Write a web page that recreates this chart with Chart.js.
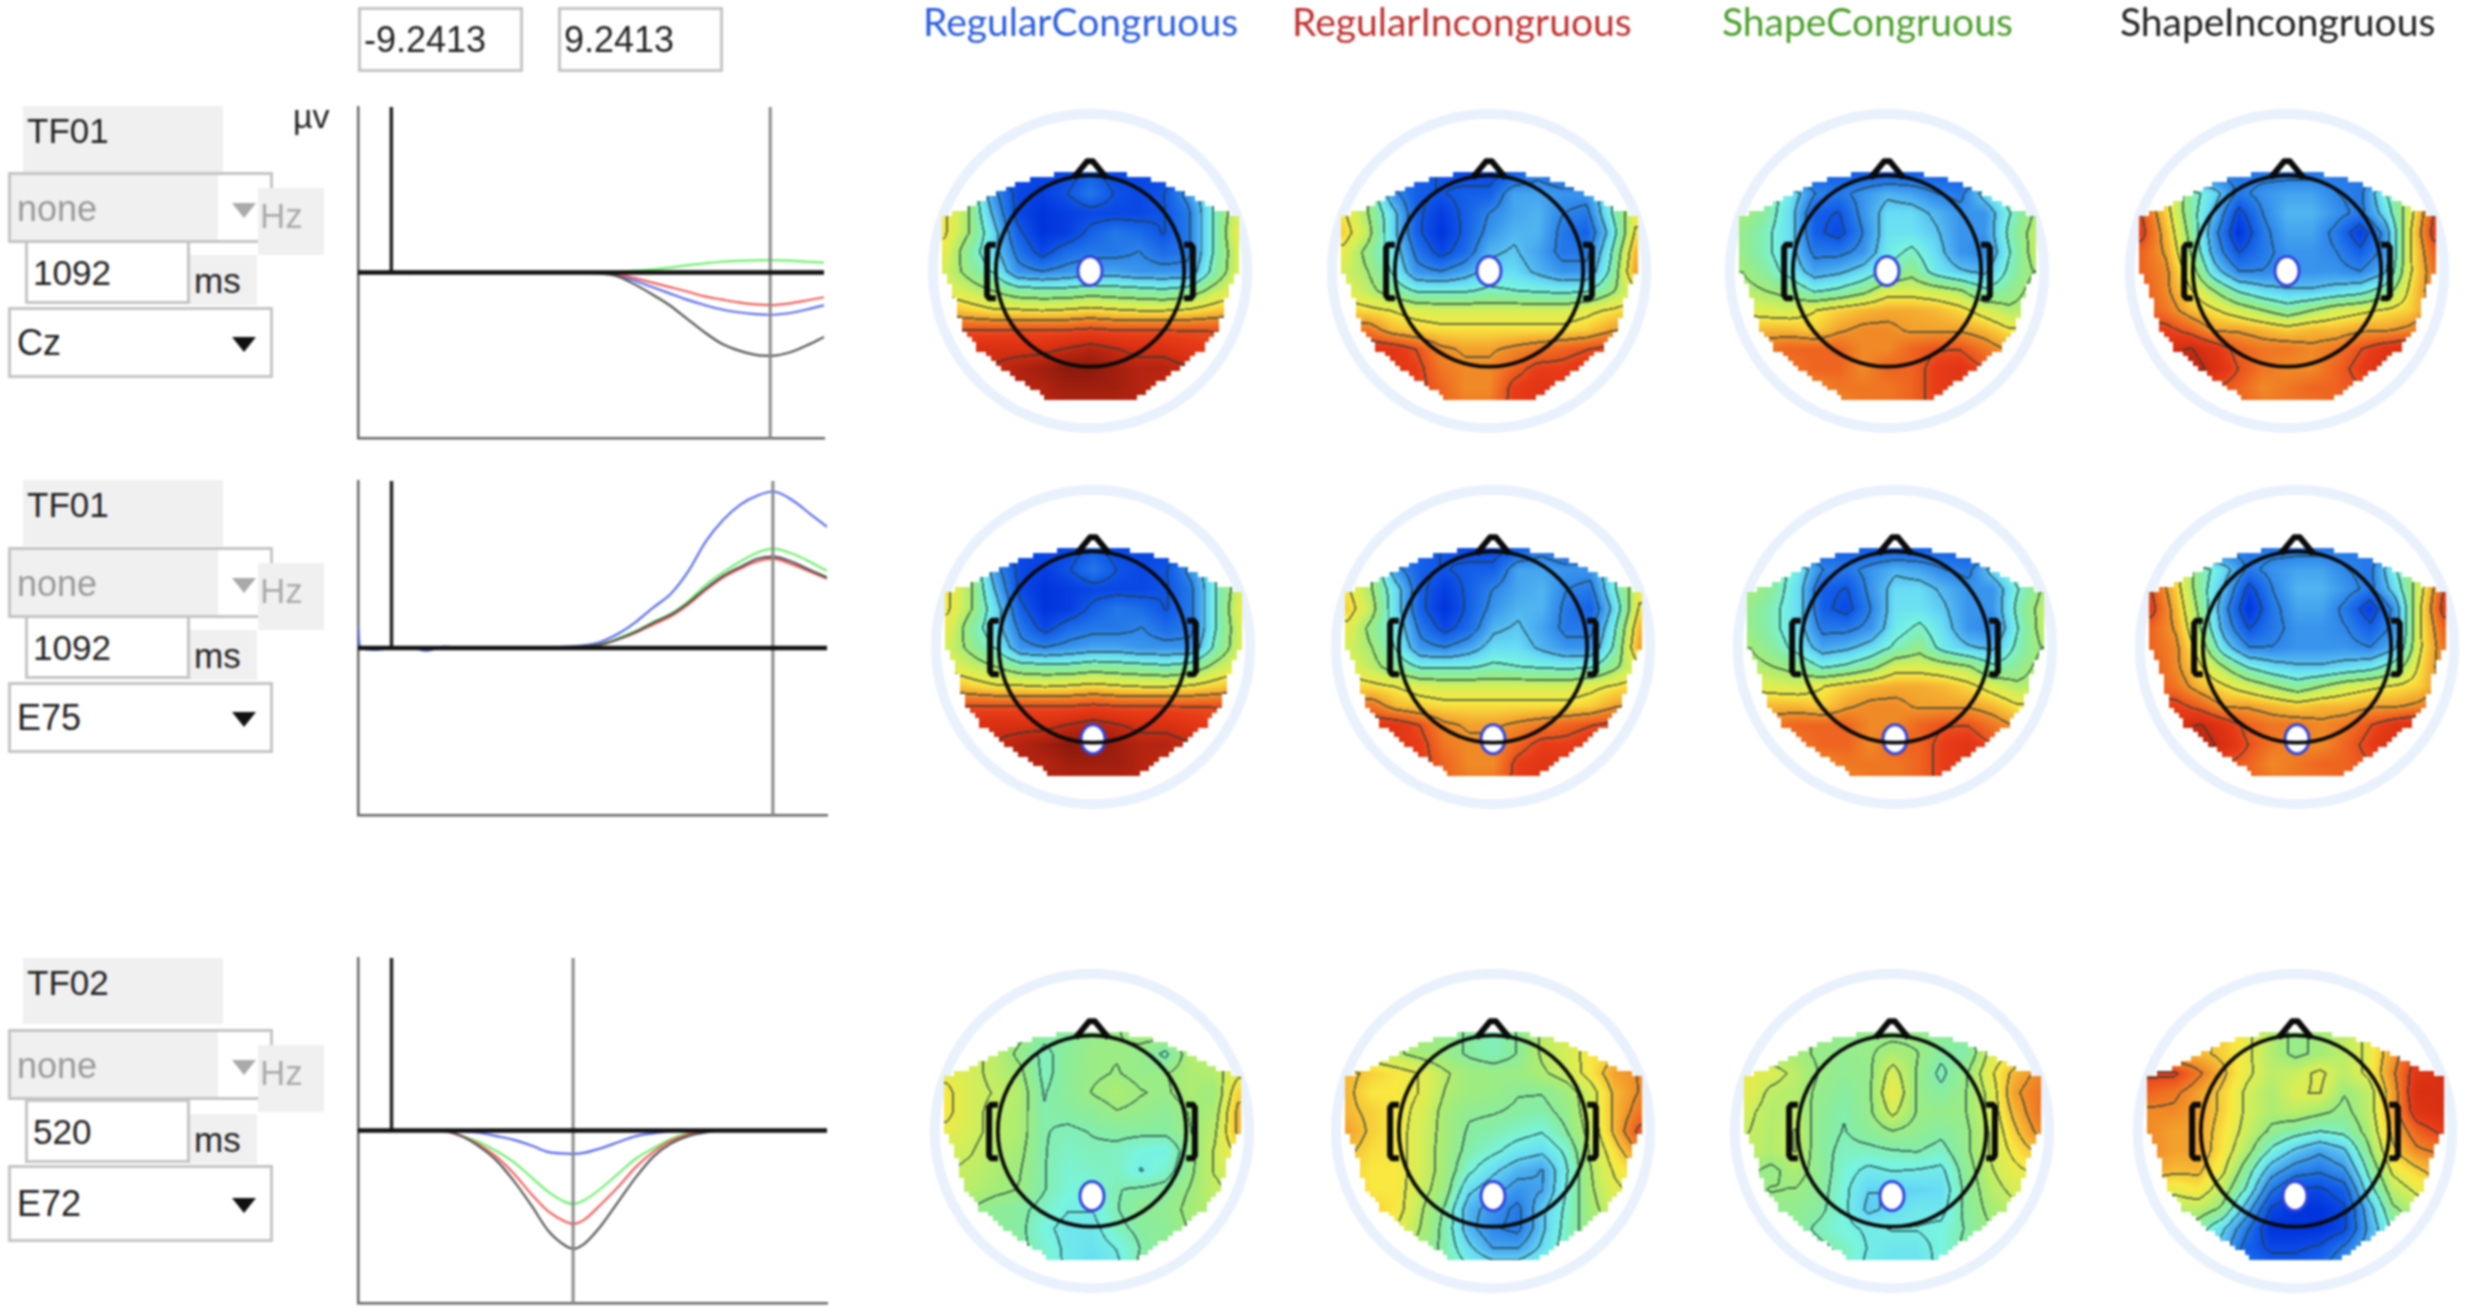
<!DOCTYPE html>
<html>
<head>
<meta charset="utf-8">
<title>ERP waveforms and scalp maps</title>
<script src="https://cdn.jsdelivr.net/npm/chart.js@4"></script>
<style>
    html, body { margin: 0; padding: 0; background: #fff; }
    #page { position: absolute; left: 0; top: 0; width: 2470px; height: 1312px; overflow: hidden; filter: blur(0.9px); font-family: "Liberation Sans", Arial, sans-serif; }
    #page canvas { position: absolute; }
    .box { position: absolute; box-sizing: border-box; display: flex; align-items: center; white-space: nowrap; }
    .tri { position: absolute; width: 0; height: 0; border-left: 12px solid transparent; border-right: 12px solid transparent; }
    .title { position: absolute; top: -1px; height: 44px; line-height: 44px; font-family: Lato, sans-serif; font-size: 39px; white-space: nowrap; }
</style>
</head>
<body>
<div id="page"></div>
<script>
// Waveforms, values in microvolts
const timesA = [-96, -90, -50, 0, 50, 100, 150, 200, 250, 300, 350, 400, 450, 500, 550, 600, 650, 700, 750, 800, 850, 900, 950, 1000, 1050, 1092, 1150, 1200, 1247];
const timesB = [-96, -90, -50, 0, 50, 100, 150, 200, 250, 300, 350, 400, 450, 500, 520, 550, 600, 650, 700, 750, 800, 850, 900, 950, 1000, 1050, 1100, 1150, 1200, 1247];

const czBlue = [0, 0, 0, 0, -0.03, 0, 0.02, 0, 0, 0, 0, 0, 0, 0, -0.01, -0.02, -0.13, -0.45, -0.8, -1.15, -1.5, -1.8, -2.05, -2.22, -2.32, -2.36, -2.26, -2.05, -1.83];
const czRed = [0, 0, 0, 0, 0, 0, 0, 0, 0, 0, 0, 0, 0, 0, -0.01, -0.02, -0.1, -0.3, -0.55, -0.8, -1.05, -1.32, -1.5, -1.67, -1.78, -1.82, -1.72, -1.55, -1.38];
const czGreen = [0, 0, 0, 0, 0, 0, 0, 0, 0, 0, 0, 0, 0, 0, 0, 0, 0.02, 0.1, 0.16, 0.27, 0.4, 0.5, 0.6, 0.65, 0.68, 0.69, 0.66, 0.6, 0.55];
const czBlack = [0, 0, 0, 0, 0, 0, 0, 0, 0, 0, 0, 0, 0, 0, -0.02, -0.05, -0.2, -0.65, -1.2, -1.8, -2.55, -3.3, -3.95, -4.35, -4.6, -4.65, -4.45, -4.05, -3.6];

const e75Blue = [1.2, 0.05, -0.1, 0, 0.05, -0.15, 0.08, 0, -0.05, 0, 0.02, 0.03, 0.03, 0.08, 0.15, 0.35, 0.8, 1.45, 2.25, 3, 4.25, 5.9, 7.1, 7.95, 8.45, 8.66, 8.15, 7.4, 6.7];
const e75Red = [0, 0, 0, 0, 0, 0, 0, 0, 0, 0, 0, 0, 0, 0.03, 0.08, 0.18, 0.48, 0.85, 1.3, 1.75, 2.4, 3.2, 3.9, 4.4, 4.8, 4.93, 4.6, 4.2, 3.83];
const e75Green = [0, 0, 0, 0, 0, 0, 0, 0, 0, 0, 0, 0, 0, 0.03, 0.1, 0.22, 0.55, 0.95, 1.45, 1.9, 2.6, 3.5, 4.2, 4.8, 5.3, 5.5, 5.2, 4.75, 4.27];
const e75Black = [0, 0, 0, 0, 0, 0, 0, 0, 0, 0, 0, 0, 0, 0.03, 0.1, 0.2, 0.5, 0.9, 1.4, 1.85, 2.5, 3.3, 4, 4.5, 4.95, 5.06, 4.75, 4.3, 3.9];

const e72Blue = [0, 0, 0, 0, 0, 0, 0, -0.05, -0.12, -0.3, -0.5, -0.8, -1.16, -1.24, -1.25, -1.2, -0.95, -0.62, -0.3, -0.15, -0.03, 0, 0, 0, 0, 0, 0, 0, 0, 0];
const e72Red = [0, 0, 0, 0, 0, 0, -0.03, -0.3, -0.75, -1.4, -2.3, -3.4, -4.35, -4.9, -5, -4.8, -3.95, -3, -1.95, -1.15, -0.55, -0.2, -0.05, 0, 0, 0, 0, 0, 0, 0];
const e72Green = [0, 0, 0, 0, 0, 0, -0.03, -0.28, -0.62, -1.1, -1.7, -2.5, -3.3, -3.85, -3.93, -3.75, -3.1, -2.3, -1.5, -0.95, -0.45, -0.15, -0.03, 0, 0, 0, 0, 0, 0, 0];
const e72Black = [0, 0, 0, 0, 0, 0, -0.03, -0.3, -0.85, -1.6, -2.7, -4, -5.4, -6.2, -6.34, -6.1, -5.1, -3.8, -2.5, -1.4, -0.7, -0.3, -0.1, 0, 0, 0, 0, 0, 0, 0];

const cursorsMs = [1092, 1092, 520];
const yRange = 9.2413;
const xMin = -96;
const xMax = 1247;

// Scalp maps, one value per grid node, rows from front to back
const gridX = [-150, -125, -100, -75, -50, -25, 0, 25, 50, 75, 100, 125, 150];
const gridY = [100, 80, 60, 40, 20, 0, -20, -40, -60, -80, -100, -120, -140];

const mapRegularCongruous1092 = [
    [-8, -8, -8, -8, -8, -8, -7, -8, -8, -8, -8, -8, -8],
    [2, 0, -5, -8, -8.5, -7.5, -6, -7.5, -8, -7.5, -5, -2, 1],
    [2, 0, -4, -8, -9, -8.5, -8, -8, -8, -7.5, -6, -2, 1],
    [2, 0, -3, -7, -9, -8.5, -7, -6, -6.5, -7.5, -6, -2, 1.5],
    [1.5, -1, -3, -6, -8, -6.5, -6, -6, -5.5, -6.5, -6, -2, 1],
    [1, -0.5, -2, -5, -5.5, -5, -4.5, -4.5, -5, -5, -5, -1.5, 1],
    [1.5, 0.8, 0, -1, -1.2, -1.2, -0.8, -1, -1.2, -1.5, -1, 0.5, 1.5],
    [3, 2.5, 2, 2, 1.8, 2, 2.3, 2, 1.8, 1.8, 2, 2.5, 3],
    [5.5, 5.5, 5.5, 5.5, 5.5, 5.5, 5.8, 5.5, 5.5, 5.5, 5.5, 5.5, 5.5],
    [7, 7, 7, 7, 7, 7.5, 8, 7.5, 7, 7, 6.5, 6, 6],
    [7, 7, 7.5, 8, 8.5, 9, 9, 8.5, 8, 8, 7.5, 6.5, 6],
    [7, 7, 7, 8, 8, 8.5, 8.5, 8.5, 8, 7.5, 7, 6.5, 6],
    [7, 7, 7, 7.5, 8, 8, 8, 8, 8, 7.5, 7, 6, 6]
];
const mapRegularIncongruous1092 = [
    [-7, -7, -7, -7, -7.5, -8, -8, -7, -6, -7, -7, -7, -7],
    [2, 0, -5, -7, -7.5, -7, -7, -4.5, -4.5, -5, -5, -2, 1.5],
    [2, 0, -3, -7, -8.5, -7, -5.5, -4.5, -4, -5.5, -6, -2, 1.5],
    [2.5, 0.5, -3, -7, -9, -7, -5, -4, -4, -6, -7, -3, 2],
    [1.5, -0.5, -2.5, -6, -8, -6.5, -4, -3.5, -4.5, -6, -6, -2, 3],
    [1, 0, -2, -5, -5.5, -4.5, -3, -3, -4, -5, -5, -1.5, 3.5],
    [1.5, 0.5, -0.8, -2, -2, -2, -1.5, -1.8, -2, -2.2, -2, -0.3, 1.5],
    [2.5, 2.2, 1.8, 1.2, 1, 1, 1, 1, 1, 1, 1.5, 2, 2.5],
    [4.5, 4.5, 3, 2.5, 2.2, 2.2, 2.2, 2.2, 2.2, 2.2, 2.5, 3.5, 4],
    [6.5, 6.5, 6.5, 5.5, 4, 3.5, 3.5, 4, 4.5, 5, 5.5, 6, 6.5],
    [6.5, 6.5, 6.5, 6, 4.5, 4, 4, 5, 6, 6, 6.5, 6.5, 6.5],
    [6, 6.5, 6.5, 6, 5, 4, 4, 6, 6.5, 6.5, 6.5, 6.5, 6],
    [6, 6, 6, 6, 5, 4.5, 4.5, 6, 6.5, 6.5, 6, 6, 6]
];
const mapShapeCongruous1092 = [
    [-7, -7, -7, -7, -7, -7, -7, -7, -7, -7, -7, -7, -7],
    [0, -1, -2.5, -5.5, -6, -5, -4, -4.5, -5.5, -6, -3, -1, 0],
    [0, -1, -3, -7, -7.5, -5, -3, -3, -4, -5, -5, -2, 0],
    [-0.5, -1.5, -3, -7, -8, -5.5, -2.8, -2.8, -3.5, -5, -5, -1.5, 0.5],
    [-0.5, -1.5, -3, -6, -6, -5, -2.5, -1.5, -3, -5, -5.5, -2, 0.5],
    [0, -1, -2.5, -4.5, -4, -3, -1.5, -0.5, -2.5, -3.5, -4, -1.5, 0],
    [0.5, 0, -0.5, -2, -1.5, -0.5, 1.2, 1.2, 0.8, 0.2, -1.5, -0.8, 0.5],
    [1.5, 1.2, 1, 1.8, 2.5, 3, 3.3, 3.3, 3, 2.3, 1.2, 0.3, 0.5],
    [3, 3, 3, 2.5, 3.5, 4, 4, 3.5, 3.5, 3.5, 3, 2, 2],
    [4, 4.5, 5, 5, 5, 4, 4, 5, 5.5, 5.5, 4.5, 3.5, 3],
    [4, 4.5, 4.5, 5, 5, 4, 5, 5, 6, 6.5, 5.5, 4.5, 4],
    [4, 4.5, 4, 4, 4.5, 4.5, 4.5, 5, 6, 6.5, 6, 5, 4],
    [4, 4, 4, 4, 4, 4.5, 4.5, 5, 6, 6.5, 6, 5, 4]
];
const mapShapeIncongruous1092 = [
    [-6, -6, -6, -6, -6, -6, -6, -6, -6, -6, -6, -6, -6],
    [5, 2, -1, -3, -6, -5, -4.5, -4.5, -5.5, -6, -2, 0.5, 5],
    [5.5, 2.5, -1, -4, -8, -5.5, -4, -4, -5, -6, -3, 1, 5.5],
    [6, 3, -0.5, -5, -9, -6, -4.5, -4.5, -6, -8.5, -5, 1.5, 6],
    [5, 3.5, 0, -4.5, -7.5, -6, -5, -5, -5.5, -7, -5, 1.5, 5],
    [5, 4, 1, -3, -5.5, -5.5, -5, -5, -5, -5.5, -4, 1.5, 4.5],
    [5.5, 4, 2, 0, -2, -3, -3.5, -3.5, -3, -2.5, -1, 2, 4.5],
    [5.5, 4.5, 3, 2, 1, 0, -1, 0, 1, 1.5, 2, 2.5, 4],
    [6, 6, 5, 3.5, 3.5, 3, 2.5, 3, 3, 3.5, 3.5, 4, 5],
    [6, 7, 7.5, 6.5, 5, 4.5, 4.5, 4, 4.5, 5.5, 6.5, 7, 6],
    [6, 7, 8, 7, 5.5, 4.5, 4, 4, 5, 6, 7, 7, 5.5],
    [6, 6.5, 6.5, 5.5, 5, 4, 4.5, 5, 5, 5.5, 6.5, 6.5, 5.5],
    [6, 6, 5.5, 5, 5, 4.5, 4.5, 4.5, 5, 5.5, 6, 6, 5]
];
const mapRegularCongruous520 = [
    [0.5, 0.5, 0.5, 0, -1, -1, -0.5, -0.3, 0, 0.3, 0.5, 0.5, 0.5],
    [1.5, 1, 0.5, -0.5, -1.5, -0.8, -0.3, -0.3, -0.5, -1.5, 0.3, 0.5, 1.5],
    [1.5, 1, 0.5, 0, -1.5, -0.8, -0.4, -0.2, -0.5, -0.3, 0.2, 0.3, 1.5],
    [2, 1, 0.7, 0.3, -1.3, -0.8, -0.2, 0.2, -0.2, -0.4, 0.2, -0.2, 2.5],
    [2, 1, 0.5, 0.2, -1.2, -1, -0.8, -0.3, -0.5, -0.8, -0.2, 0.2, 3],
    [1.5, 1, 0.5, 0.2, -1.2, -1.4, -1.2, -1, -1, -1, -0.3, 0.5, 3],
    [1, 0.8, 0.3, 0, -1.2, -1.6, -1.4, -1.5, -2, -2.2, -0.6, 0.8, 2],
    [0.8, 0.6, 0.2, -0.2, -1.2, -1.8, -1.6, -1.5, -2.3, -1.7, -0.5, 0.8, 1],
    [0.5, 0.4, 0, -0.3, -1.2, -1.9, -2, -1.3, -1.1, -0.9, -0.2, 0.6, 1],
    [0.3, -0.3, -0.8, -1, -1.6, -2.2, -2.2, -1.3, -0.7, -0.7, 0, 0.3, 0.5],
    [0.3, -0.3, -0.8, -1, -2, -2.6, -2.6, -1.5, -1, -0.8, -0.2, 0.2, 0.3],
    [0, -0.5, -0.7, -1, -1.7, -2.5, -2.8, -2.2, -1.2, -0.7, -0.3, 0, 0],
    [0, -0.5, -0.7, -1, -1.5, -2.5, -3, -2.5, -1, -0.7, -0.3, 0, 0]
];
const mapRegularIncongruous520 = [
    [1, 1, 0.5, 0, -0.4, -1, -1.4, -0.8, 0.5, 1, 2, 2.5, 3],
    [1, 0.8, 0.5, 0, -0.4, -1, -1.4, -0.8, 0.5, 1, 2, 2.5, 3],
    [3, 2.5, 2, 1.5, 0.5, -0.2, -0.3, -0.3, 0.2, 0.8, 2, 3.5, 4],
    [3, 2, 2, 1.5, 0.3, -0.2, -0.4, -0.8, -0.8, -0.2, 1, 3, 4],
    [3, 2.5, 2, 1.2, 0, -0.7, -0.8, -1, -1.2, -0.5, 1, 3, 4.5],
    [3.5, 2.5, 2, 1, 0, -1, -1.2, -1.6, -2, -0.9, 0.8, 3, 5.5],
    [3, 2.2, 2, 1, -0.1, -1.2, -1.8, -2.6, -3, -1.8, 0.5, 2.2, 4],
    [2.5, 2, 2, 1, -0.1, -1.8, -3, -4, -4.5, -2.2, 0.3, 1.7, 2.5],
    [2.5, 2, 2, 0.8, -0.3, -3, -4, -5, -4.5, -2, 0.2, 1.3, 2],
    [2, 2.5, 2, 0.5, -1, -4, -5, -6, -3.5, -1.8, 0, 1, 1.5],
    [2, 2, 1.5, 0.3, -1.2, -4, -5.5, -6, -3.5, -1.6, -0.2, 0.6, 1],
    [1, 1, 1, 0, -1.2, -3, -4.5, -4.5, -3, -1.5, -0.4, 0.3, 1],
    [0.5, 0.5, 0, -0.3, -1, -2, -2.5, -2.5, -1.8, -1, -0.4, 0, 0.5]
];
const mapShapeCongruous520 = [
    [0.3, 0.2, 0, -0.4, -0.6, -0.5, -0.5, -0.5, -0.8, -1, 1, 2, 2.5],
    [0.3, 0.2, 0, -0.4, -0.6, -0.4, 0.2, -0.2, -1, -1.2, 1, 2, 2.5],
    [1.5, 1.2, 0.5, -0.3, -0.7, -0.5, 1.2, -0.3, -1.5, -0.4, 1.5, 3, 4],
    [1.5, 0.5, 0.3, -0.5, -1, -0.5, 1.7, -0.3, -1, -0.3, 1, 3.5, 4.5],
    [1, 0.3, 0.5, -0.7, -1.2, -0.5, 1, -0.3, -0.5, -0.3, 1, 3, 4.5],
    [0.8, 0.3, 0.8, -0.8, -1.3, -0.8, -0.3, -0.6, -1, -0.5, 0.8, 2.5, 4],
    [0.6, 0.3, 0.8, -0.9, -1.5, -1.5, -1.3, -1.2, -1.6, -0.5, 0.8, 2, 3],
    [0, -0.5, 0.2, -0.7, -1.8, -2.5, -2.2, -2.3, -2.5, -0.8, 0.6, 1.5, 2],
    [-0.5, -0.2, -0.3, -0.8, -2, -3.2, -3.3, -3.2, -3, -1, 0.3, 1, 1],
    [0, -0.6, -0.6, -1, -2, -3.5, -3, -2.6, -2.6, -1, 0, 0.5, 0.5],
    [0, -0.5, -0.8, -1.5, -2, -2.4, -2.2, -2.2, -2, -1.2, -0.3, 0, 0.3],
    [-0.3, -0.5, -0.7, -1, -1.5, -2.3, -2.6, -2.6, -2, -1, -0.3, 0, 0],
    [-0.3, -0.5, -0.7, -1, -1.5, -2.5, -2.8, -2.8, -2, -1, -0.3, 0, 0]
];
const mapShapeIncongruous520 = [
    [3, 3, 3, 2.5, 1.5, 0.3, -0.5, 0, 0.5, 1.5, 3.5, 6, 6],
    [3, 3, 3, 2.5, 1.5, 0.3, -0.5, 0, 0.5, 1.5, 3.5, 6, 6],
    [6, 6, 4.5, 3, 1.5, 0.5, 0.8, 1.5, 0.5, 1.5, 4, 6.5, 7],
    [5, 4.5, 3.5, 2.5, 1, 0.2, 1.2, 1.3, -0.2, 0.5, 3.5, 7, 7],
    [4, 4, 3.5, 2.5, 1, 0.2, 0.5, 0, -0.6, 0.5, 3.5, 6.5, 7],
    [4, 3.5, 3.5, 2.2, 0.8, -0.5, -1.2, -1.8, -1.4, 0.2, 3, 5, 6],
    [4, 3.5, 3.5, 2, 0.2, -2, -3.5, -4.5, -3.5, -0.5, 2.5, 4, 4.5],
    [3.5, 3, 3, 1.5, -1, -4, -5.5, -6, -5, -1.5, 1.5, 2.5, 3.5],
    [1.5, 1.5, 2, 0.5, -2, -6, -8, -8, -7, -2.5, 0.5, 1.5, 2],
    [1, 0.5, 0.5, -0.5, -4, -8, -9, -9, -8, -4, -0.5, 0.5, 1],
    [0, -0.3, -1, -3, -6, -9, -9, -9, -8, -4.5, -1.5, 0, 0.3],
    [-1, -1.5, -2.5, -4, -7, -8, -8, -7.5, -6, -4, -1.5, -0.3, 0],
    [-1, -1.5, -2.5, -4, -6, -7, -7, -6.5, -5, -3.5, -1.5, -0.3, 0]
];

// Head drawing and recording sites, in map units
const scalpEdgeX = [-20, 20, 50, 74, 105, 151, 151, 141, 133, 115, 84, 42, -40, -84, -115, -133, -141, -151, -151, -105, -74, -50];
const scalpEdgeY = [103, 103, 98, 91, 76, 55, 2, -21, -56, -81, -105, -134, -134, -105, -81, -56, -21, 2, 55, 76, 91, 98];
const noseX = [-17, -3, 3, 17];
const noseY = [96, 113, 113, 96];
const earLeftX = [-97, -104, -106, -106, -104, -97];
const earRightX = [97, 104, 106, 106, 104, 97];
const earY = [27, 27, 24, -25, -28, -28];
const siteX = [0, 0, 0];
const siteY = [0, -95, -67];

const conditions = ['RegularCongruous', 'RegularIncongruous', 'ShapeCongruous', 'ShapeIncongruous'];
const conditionColors = ['#2a5de0', '#c0302e', '#4b9e2c', '#222222'];
const titleLeft = [923, 1292, 1722, 2120];
const labelsTF = ['TF01', 'TF01', 'TF02'];
const labelsMs = ['1092', '1092', '520'];
const labelsSite = ['Cz', 'E75', 'E72'];

const jetColors = ['#0034dc', '#0a48e4', '#1460e8', '#2478e8', '#3894ec', '#50b4f0', '#68dcf4', '#78f4e0', '#88eca0', '#a4ec78',
    '#d4ee58', '#f8e840', '#f6b834', '#f08a26', '#ee6420', '#e83c18', '#d83012', '#b42410', '#8c1a0c'];
const contourSteps = [[1.85, 1.85, 1.85, 1.85], [1.85, 1.85, 1.85, 1.85], [1, 1.2, 1, 1.5]];

const page = document.getElementById('page');

function addBox(x, y, w, h, css, text) {
    const el = document.createElement('div');
    el.className = 'box';
    el.style.cssText = `left:${x}px;top:${y}px;width:${w}px;height:${h}px;${css}`;
    if (text) el.textContent = text;
    page.appendChild(el);
}

function addTriangle(x, y, color) {
    const el = document.createElement('div');
    el.className = 'tri';
    el.style.cssText = `left:${x}px;top:${y}px;border-top:15px solid ${color};`;
    page.appendChild(el);
}

function addCanvas(x, y, w, h) {
    const c = document.createElement('canvas');
    c.width = w;
    c.height = h;
    c.style.cssText = `left:${x}px;top:${y}px;width:${w}px;height:${h}px;`;
    page.appendChild(c);
    return c;
}

// Left controls, the third block sits a little lower and its last select is taller
const controlBorder = 'border:3.5px solid #c4c4c4;';
const selectDy = [0, 375, 857];
const inputDy = [0, 375, 859];
const siteDy = [0, 375, 858];
const siteHeight = [71, 71, 77];
addBox(358, 7, 165, 65, controlBorder + 'padding-left:3px;font-size:36px;color:#222;', '-9.2413');
addBox(558, 7, 165, 65, controlBorder + 'padding-left:3px;font-size:36px;color:#222;', '9.2413');
addBox(293, 96, 40, 40, 'font-size:34px;color:#222;', 'µv');
selectDy.forEach((dy, i) => {
    const tfDy = [0, 374, 852][i];
    addBox(23, 106 + tfDy, 200, 66, 'background:#f0f0f0;padding:0 0 16px 4px;font-size:35px;color:#222;', labelsTF[i]);
    addBox(8, 172 + dy, 265, 71, controlBorder + 'background:linear-gradient(90deg,#f0f0f0 80%,#fff 80%);padding:3px 0 0 6px;font-size:36px;color:#999;', 'none');
    addTriangle(232, 203 + dy, '#aaa');
    addBox(258, 188 + dy, 66, 67, 'background:#f0f0f0;padding:0 0 12px 2px;font-size:35px;color:#aaa;', 'Hz');
    addBox(189, 255 + inputDy[i], 68, 50, 'background:#f0f0f0;padding:2px 0 0 5px;font-size:35px;color:#222;', 'ms');
    addBox(25, 240 + inputDy[i], 165, 64, controlBorder + 'background:#fff;padding:2px 0 0 5px;font-size:35px;color:#222;', labelsMs[i]);
    addBox(8, 307 + siteDy[i], 265, siteHeight[i], controlBorder + 'background:#fff;padding-left:6px;font-size:36px;color:#222;', labelsSite[i]);
    addTriangle(232, 337 + siteDy[i] + (siteHeight[i] - 71) / 2, '#111');
});

conditions.forEach((name, i) => {
    const el = document.createElement('div');
    el.className = 'title';
    el.style.left = titleLeft[i] + 'px';
    el.style.color = conditionColors[i];
    el.textContent = name;
    page.appendChild(el);
});

// Waveform charts
const waveRows = [
    { times: timesA, blue: czBlue, red: czRed, green: czGreen, black: czBlack, top: 107, height: 331, right: 824 },
    { times: timesA, blue: e75Blue, red: e75Red, green: e75Green, black: e75Black, top: 481, height: 334, right: 827 },
    { times: timesB, blue: e72Blue, red: e72Red, green: e72Green, black: e72Black, top: 958, height: 345, right: 827 }
];

function wave(times, values, color, order) {
    return {
        data: times.map((t, i) => ({ x: t, y: values[i] })),
        borderColor: color,
        borderWidth: 2.2,
        pointRadius: 0,
        cubicInterpolationMode: 'monotone',
        order: order
    };
}

function rule(x0, y0, x1, y1, color, width, order) {
    return {
        data: [{ x: x0, y: y0 }, { x: x1, y: y1 }],
        borderColor: color,
        borderWidth: width,
        pointRadius: 0,
        order: order
    };
}

waveRows.forEach((row, i) => {
    const pad = 6;
    const left = 358;
    const c = addCanvas(left - pad, row.top - pad, row.right - left + pad * 2, row.height + pad * 2);
    new Chart(c.getContext('2d'), {
        type: 'line',
        data: {
            datasets: [
                rule(xMin, 0, xMax, 0, '#111', 4.5, 0),
                rule(0, 0, 0, yRange, '#222', 3.5, 1),
                rule(cursorsMs[i], -yRange, cursorsMs[i], yRange, '#8a8a8a', 3, 2),
                wave(row.times, row.black, '#555555', 3),
                wave(row.times, row.red, '#f0605c', 4),
                wave(row.times, row.green, '#6ef06e', 5),
                wave(row.times, row.blue, '#5a6cf0', 6)
            ]
        },
        options: {
            responsive: false,
            animation: false,
            events: [],
            layout: { padding: pad },
            plugins: { legend: { display: false }, tooltip: { enabled: false } },
            scales: {
                x: {
                    type: 'linear', min: xMin, max: xMax,
                    grid: { display: false }, ticks: { display: false },
                    border: { color: '#666', width: 2.5 },
                    afterFit: s => { s.height = 0; }
                },
                y: {
                    min: -yRange, max: yRange,
                    grid: { display: false }, ticks: { display: false },
                    border: { color: '#666', width: 2.5 },
                    afterFit: s => { s.width = 0; }
                }
            }
        }
    });
});

// Scalp maps
const jetRgb = jetColors.map(h => [1, 3, 5].map(k => parseInt(h.substr(k, 2), 16)));

function jet(v) {
    const p = Math.max(0, Math.min(18, v + 9));
    const i = Math.min(17, Math.floor(p));
    const f = p - i;
    return jetRgb[i].map((c, k) => c + (jetRgb[i + 1][k] - c) * f);
}

function inScalp(x, y) {
    let inside = false;
    for (let i = 0, j = scalpEdgeX.length - 1; i < scalpEdgeX.length; j = i++) {
        if ((scalpEdgeY[i] > y) !== (scalpEdgeY[j] > y) &&
            x < (scalpEdgeX[j] - scalpEdgeX[i]) * (y - scalpEdgeY[i]) / (scalpEdgeY[j] - scalpEdgeY[i]) + scalpEdgeX[i]) {
            inside = !inside;
        }
    }
    return inside;
}

function fieldAt(grid, x, y) {
    const cx = Math.max(0, Math.min(gridX.length - 1.001, (x - gridX[0]) / (gridX[1] - gridX[0])));
    const cy = Math.max(0, Math.min(gridY.length - 1.001, (y - gridY[0]) / (gridY[1] - gridY[0])));
    const i = Math.floor(cx), j = Math.floor(cy);
    const fx = cx - i, fy = cy - j;
    return (grid[j][i] * (1 - fx) + grid[j][i + 1] * fx) * (1 - fy) +
        (grid[j + 1][i] * (1 - fx) + grid[j + 1][i + 1] * fx) * fy;
}

const scalpMap = {
    id: 'scalpMap',
    beforeDatasetsDraw(chart, args, opts) {
        const { ctx, scales: { x: xs, y: ys }, width, height } = chart;
        const x0 = xs.getPixelForValue(0), y0 = ys.getPixelForValue(0);

        ctx.save();
        ctx.strokeStyle = '#e9f1fc';
        ctx.lineWidth = 10;
        ctx.beginPath();
        ctx.arc(x0, y0, xs.getPixelForValue(162) - x0, 0, Math.PI * 2);
        ctx.stroke();
        ctx.restore();

        const img = ctx.createImageData(width, height);
        const level = (x, y) => Math.floor((fieldAt(opts.grid, x, y) + 9.25) / opts.step);
        for (let py = 0; py < height; py++) {
            for (let px = 0; px < width; px++) {
                const x = xs.getValueForPixel(px), y = ys.getValueForPixel(py);
                // the map edge is stepped in the source, about 5 units a step
                if (!inScalp(Math.round(x / 5) * 5, Math.round(y / 5) * 5)) continue;
                let rgb = jet(fieldAt(opts.grid, x, y));
                const lv = level(x, y);
                if (lv !== level(x + 1, y) || lv !== level(x - 1, y) || lv !== level(x, y - 1) || lv !== level(x, y + 1)) {
                    rgb = rgb.map((c, k) => c * 0.3 + [30, 60, 60][k] * 0.7);
                }
                const o = (py * width + px) * 4;
                img.data[o] = rgb[0];
                img.data[o + 1] = rgb[1];
                img.data[o + 2] = rgb[2];
                img.data[o + 3] = 255;
            }
        }
        const off = document.createElement('canvas');
        off.width = width;
        off.height = height;
        off.getContext('2d').putImageData(img, 0, 0);
        ctx.drawImage(off, 0, 0);
    },
    afterDatasetsDraw(chart) {
        const { ctx, scales: { x: xs, y: ys } } = chart;
        const x0 = xs.getPixelForValue(0), y0 = ys.getPixelForValue(0);
        ctx.save();
        ctx.strokeStyle = '#0a0a0a';
        ctx.lineWidth = 3.8;
        ctx.beginPath();
        ctx.ellipse(x0, y0, xs.getPixelForValue(97) - x0, y0 - ys.getPixelForValue(98.5), 0, 0, Math.PI * 2);
        ctx.stroke();
        ctx.restore();
    }
};

function outline(xs, ys, width) {
    return {
        data: xs.map((x, i) => ({ x: x, y: ys[i] })),
        borderColor: '#0a0a0a',
        borderWidth: width,
        borderJoinStyle: 'round',
        pointRadius: 0,
        showLine: true,
        order: 1
    };
}

// electrode marker is a little taller than wide
const siteMarker = document.createElement('canvas');
siteMarker.width = 30;
siteMarker.height = 34;
const markerCtx = siteMarker.getContext('2d');
markerCtx.fillStyle = '#fff';
markerCtx.strokeStyle = '#3344dd';
markerCtx.lineWidth = 3;
markerCtx.beginPath();
markerCtx.ellipse(15, 17, 12, 14.5, 0, 0, Math.PI * 2);
markerCtx.fill();
markerCtx.stroke();

const mapRows = [
    { grids: [mapRegularCongruous1092, mapRegularIncongruous1092, mapShapeCongruous1092, mapShapeIncongruous1092], cx: [1090, 1489, 1887, 2287], cy: 271 },
    { grids: [mapRegularCongruous1092, mapRegularIncongruous1092, mapShapeCongruous1092, mapShapeIncongruous1092], cx: [1093, 1493, 1895, 2297], cy: 647 },
    { grids: [mapRegularCongruous520, mapRegularIncongruous520, mapShapeCongruous520, mapShapeIncongruous520], cx: [1092, 1493, 1892, 2295], cy: 1131 }
];

mapRows.forEach((row, r) => {
    row.grids.forEach((grid, k) => {
        const c = addCanvas(row.cx[k] - 170, row.cy - 170, 340, 340);
        new Chart(c.getContext('2d'), {
            type: 'scatter',
            data: {
                datasets: [
                    outline(noseX, noseY, 6),
                    outline(earLeftX, earY, 6),
                    outline(earRightX, earY, 6),
                    {
                        data: [{ x: siteX[r], y: siteY[r] }],
                        pointStyle: siteMarker,
                        order: 0
                    }
                ]
            },
            options: {
                responsive: false,
                animation: false,
                events: [],
                layout: { padding: 0 },
                plugins: {
                    legend: { display: false },
                    tooltip: { enabled: false },
                    scalpMap: { grid: grid, step: contourSteps[r][k] }
                },
                scales: {
                    x: { type: 'linear', min: -170, max: 170, display: false },
                    y: { type: 'linear', min: -170, max: 170, display: false }
                }
            },
            plugins: [scalpMap]
        });
    });
});
</script>
</body>
</html>
